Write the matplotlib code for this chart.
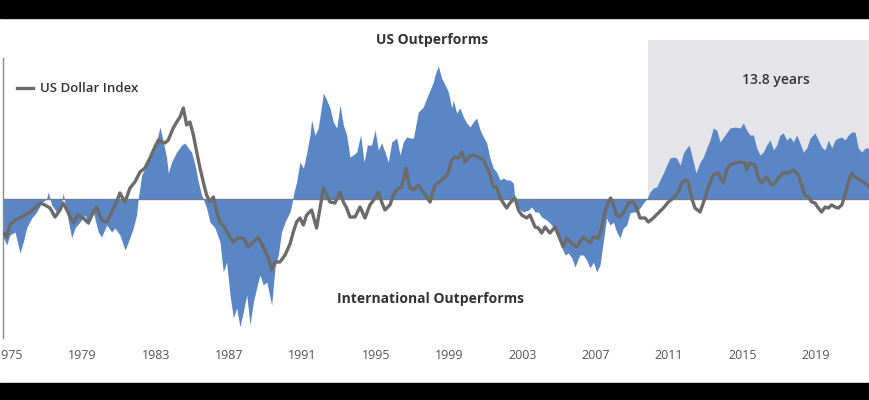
import matplotlib.pyplot as plt
from matplotlib.patches import Rectangle

plt.rcParams['font.family'] = ['Open Sans', 'DejaVu Sans']

# relative performance, US vs international (positive = US outperforms)
rel_years = [
    1974.68, 1974.86, 1975.04, 1975.32, 1975.59, 1975.77, 1975.95, 1976.23, 1976.50, 1976.77,
    1977.04, 1977.13, 1977.32, 1977.59, 1977.86, 1977.95, 1978.13, 1978.41, 1978.59, 1978.86,
    1979.13, 1979.32, 1979.59, 1979.86, 1980.04, 1980.32, 1980.59, 1980.77, 1981.04, 1981.32,
    1981.50, 1981.77, 1981.95, 1982.04, 1982.23, 1982.50,
    1982.68, 1982.95, 1983.23, 1983.41, 1983.59, 1983.68, 1983.86, 1984.14, 1984.41, 1984.59,
    1984.77, 1984.95, 1985.14, 1985.32, 1985.50, 1985.59, 1985.77, 1985.95, 1986.23, 1986.50,
    1986.68, 1986.86, 1987.05, 1987.23, 1987.41, 1987.59, 1987.77, 1987.96, 1988.14, 1988.32,
    1988.50, 1988.68, 1988.86, 1989.05, 1989.32, 1989.50, 1989.68, 1989.86, 1990.05, 1990.32,
    1990.41, 1990.54, 1990.68, 1990.86, 1991.05, 1991.23, 1991.41, 1991.50, 1991.68, 1991.86,
    1992.05, 1992.14, 1992.32, 1992.50, 1992.68, 1992.87, 1993.05, 1993.23, 1993.41, 1993.59,
    1993.77, 1993.96, 1994.17, 1994.36, 1994.54, 1994.77, 1994.96, 1995.14, 1995.32, 1995.50,
    1995.68, 1995.87, 1996.14, 1996.32, 1996.50, 1996.68, 1996.87, 1997.05, 1997.32, 1997.59,
    1997.78, 1997.96, 1998.14,
    1998.23, 1998.41, 1998.59, 1998.78, 1998.96, 1999.14, 1999.23, 1999.41, 1999.59, 1999.78,
    1999.96, 2000.14, 2000.32, 2000.50, 2000.69, 2000.87, 2001.05, 2001.23, 2001.41, 2001.59,
    2001.78, 2001.96, 2002.14, 2002.32, 2002.50, 2002.59, 2002.78, 2003.05, 2003.32, 2003.50,
    2003.69, 2003.87, 2004.05, 2004.32, 2004.60, 2004.87, 2005.14, 2005.32, 2005.50, 2005.69,
    2005.87, 2006.05,
    2006.14, 2006.32, 2006.50, 2006.69, 2006.87, 2007.05, 2007.23, 2007.41, 2007.59, 2007.78,
    2007.96, 2008.14, 2008.32, 2008.50, 2008.69, 2008.87, 2009.05, 2009.23, 2009.41, 2009.60,
    2009.78, 2009.96, 2010.14, 2010.32, 2010.50, 2010.69, 2010.87, 2011.05, 2011.23, 2011.41,
    2011.60, 2011.78, 2011.96, 2012.10, 2012.32, 2012.47, 2012.69, 2012.87, 2013.05, 2013.23,
    2013.41, 2013.60,
    2013.78, 2014.05, 2014.32, 2014.60, 2014.87, 2015.05, 2015.23, 2015.41, 2015.60, 2015.78,
    2015.96, 2016.14, 2016.32, 2016.51, 2016.69, 2016.87, 2017.05, 2017.23, 2017.41, 2017.60,
    2017.78, 2017.96, 2018.14, 2018.32, 2018.51, 2018.69, 2018.96, 2019.14, 2019.32, 2019.51,
    2019.69, 2019.87, 2020.05, 2020.23, 2020.42, 2020.60, 2020.78, 2020.96, 2021.14, 2021.32,
    2021.51, 2021.69, 2021.96,
]
rel_values = [
    -38, -46, -36, -33, -54, -43, -29, -19, -13, -4,
    0, 7, -6, -13, -3, 6, -13, -39, -29, -23,
    -16, -26, -13, -33, -38, -26, -33, -29, -36, -51,
    -43, -29, -16, 0, 24, 34,
    44, 51, 72, 57, 41, 26, 37, 47, 54, 56,
    51, 47, 34, 17, 4, 0, -9, -23, -29, -43,
    -73, -63, -96, -119, -109, -128, -113, -96, -126, -103,
    -89, -76, -86, -83, -106, -69, -56, -33, -23, -13,
    -6, 7, 17, 37, 31, 46, 64, 79, 64, 71,
    94, 106, 99, 91, 77, 71, 94, 74, 64, 42,
    44, 47, 64, 37, 54, 54, 69, 49, 56, 47,
    37, 57, 61, 44, 57, 62, 61, 61, 87, 92,
    101, 109, 117,
    124, 133, 121, 114, 107, 91, 99, 86, 91, 82,
    76, 72, 77, 81, 69, 62, 56, 41, 31, 27,
    19, 21, 19, 19, 16, 0, -9, -13, -11, -8,
    -13, -13, -18, -21, -26, -36, -48, -56, -54, -59,
    -68, -59,
    -56, -56, -61, -69, -63, -73, -66, -43, -19, -26,
    -23, -33, -39, -29, -26, -14, -13, -13, -9, -4,
    0, 7, 11, 12, 19, 26, 34, 41, 42, 41,
    34, 46, 51, 54, 37, 26, 37, 42, 51, 59,
    71, 69,
    57, 64, 71, 72, 71, 76, 69, 64, 64, 51,
    44, 47, 54, 59, 49, 54, 64, 66, 59, 62,
    57, 64, 56, 47, 51, 61, 66, 59, 52, 49,
    59, 51, 59, 61, 62, 59, 64, 67, 67, 51,
    47, 51, 51,
]

# US dollar index, same vertical scale (centred on the zero line)
usd_years = [
    1974.68, 1974.86, 1975.04, 1975.32, 1975.59, 1975.86, 1976.14, 1976.41, 1976.68, 1976.95,
    1977.23, 1977.50, 1977.77, 1977.95, 1978.23, 1978.50, 1978.77, 1979.04, 1979.32, 1979.59,
    1979.77, 1980.04, 1980.32, 1980.59, 1980.86, 1981.04, 1981.32, 1981.59, 1981.86, 1982.14,
    1982.41,
    1982.68, 1982.95, 1983.14, 1983.32, 1983.50, 1983.68, 1983.95, 1984.14, 1984.32, 1984.50,
    1984.68, 1984.86, 1985.05, 1985.23, 1985.41, 1985.59, 1985.77, 1985.95, 1986.14, 1986.32,
    1986.50, 1986.77, 1987.05, 1987.23, 1987.50, 1987.77, 1988.05, 1988.32, 1988.59, 1988.86,
    1989.14, 1989.32, 1989.50, 1989.77, 1990.05, 1990.32,
    1990.50, 1990.68, 1990.86, 1991.05, 1991.23, 1991.50, 1991.77, 1991.96, 1992.14, 1992.32,
    1992.50, 1992.77, 1993.05, 1993.23, 1993.41, 1993.59, 1993.87, 1994.14, 1994.41, 1994.68,
    1994.96, 1995.14, 1995.32, 1995.50, 1995.77, 1995.96, 1996.23, 1996.41, 1996.65, 1996.83,
    1997.05, 1997.32, 1997.59, 1997.96,
    1998.23, 1998.41, 1998.59, 1998.78, 1998.96, 1999.14, 1999.32, 1999.50, 1999.68, 1999.87,
    2000.05, 2000.32, 2000.59, 2000.87, 2001.05, 2001.23, 2001.41, 2001.59, 2001.78, 2001.96,
    2002.14, 2002.32, 2002.59, 2002.78, 2002.96, 2003.23, 2003.41, 2003.69, 2003.87, 2004.05,
    2004.23, 2004.50, 2004.78, 2004.96, 2005.23, 2005.41, 2005.69, 2005.96,
    2006.14, 2006.32, 2006.50, 2006.69, 2006.87, 2007.14, 2007.32, 2007.50, 2007.69, 2007.81,
    2007.96, 2008.14, 2008.32, 2008.60, 2008.78, 2009.05, 2009.23, 2009.41, 2009.69, 2009.87,
    2010.14, 2010.41, 2010.69, 2010.96, 2011.23, 2011.50, 2011.69, 2011.87, 2012.05, 2012.23,
    2012.41, 2012.69, 2012.96, 2013.14, 2013.41, 2013.69,
    2013.96, 2014.14, 2014.32, 2014.60, 2014.87, 2015.14, 2015.23, 2015.41, 2015.69, 2015.87,
    2016.05, 2016.32, 2016.60, 2016.78, 2016.96, 2017.23, 2017.51, 2017.78, 2018.05, 2018.23,
    2018.41, 2018.60, 2018.78, 2018.96, 2019.14, 2019.32, 2019.51, 2019.69, 2019.87, 2020.05,
    2020.23, 2020.42, 2020.60, 2020.78, 2020.96, 2021.14, 2021.41, 2021.69, 2021.96,
]
usd_values = [
    -34, -38, -26, -21, -19, -16, -13, -9, -4, -6,
    -9, -18, -11, -4, -14, -24, -16, -19, -24, -13,
    -8, -21, -23, -13, -3, 6, -3, 11, 17, 27,
    31,
    41, 52, 59, 57, 56, 59, 71, 77, 82, 91,
    74, 77, 64, 47, 31, 17, 4, -3, 2, -13,
    -23, -29, -38, -43, -39, -39, -48, -43, -38, -48,
    -59, -71, -63, -63, -56, -45,
    -33, -23, -19, -26, -16, -11, -29, -9, 11, 4,
    -3, -4, 7, -3, -9, -18, -18, -8, -19, -6,
    1, 7, -3, -11, -6, 4, 11, 12, 31, 12,
    9, 14, 7, -3,
    14, 16, 19, 22, 27, 39, 42, 41, 47, 37,
    42, 44, 42, 39, 32, 24, 12, 12, 1, -4,
    -9, -4, 1, -11, -16, -19, -16, -28, -29, -34,
    -28, -34, -28, -36, -48, -39, -44, -48,
    -43, -38, -41, -44, -38, -39, -29, -13, -3, 1,
    -6, -16, -18, -11, -4, -3, -9, -19, -19, -23,
    -19, -14, -9, -3, 1, 7, 16, 19, 17, 1,
    -9, -13, 1, 12, 24, 26,
    16, 29, 34, 36, 37, 36, 29, 36, 34, 21,
    16, 22, 14, 16, 21, 26, 26, 29, 24, 14,
    4, 2, -3, -4, -9, -13, -8, -9, -6, -8,
    -9, -6, 4, 17, 26, 22, 19, 16, 11,
]

tick_years = [1975, 1979, 1983, 1987, 1991, 1995, 1999, 2003, 2007, 2011, 2015, 2019]
span_start = 2009.85
span_label = '13.8 years'

x_min, x_max = 1974.68, 2021.96
y_min, y_max = -139, 159

fig = plt.figure(figsize=(8.7, 4.0), dpi=100)
fig.patch.set_facecolor('white')

# black letterbox bands
fig.add_artist(Rectangle((0, 0), 1, 17 / 400, transform=fig.transFigure,
                         color='black', zorder=0))
fig.add_artist(Rectangle((0, 382 / 400), 1, 18 / 400, transform=fig.transFigure,
                         color='black', zorder=0))

ax = fig.add_axes([3.3 / 870, 62 / 400, 1 - 3.3 / 870, 298 / 400])
ax.set_facecolor('none')

ax.fill_between([span_start, x_max], 0, y_max, color='#e5e5e9', lw=0, zorder=0)
ax.fill_between(rel_years, rel_values, 0, color='#5b86c5', lw=0, zorder=1)
ax.axhline(0, color='#6d7d92', lw=1.0, zorder=2)
ax.plot(usd_years, usd_values, color='#6b6b6b', lw=2.4, zorder=3,
        solid_joinstyle='round', label='US Dollar Index')

ax.set_xlim(x_min, x_max)
ax.set_ylim(y_min, y_max)

for side in ['top', 'right', 'bottom']:
    ax.spines[side].set_visible(False)
ax.spines['left'].set_color('#8a8a8a')
ax.spines['left'].set_linewidth(1.0)
ax.spines['left'].set_bounds(y_min, 141)

ax.set_yticks([])
ax.set_xticks(tick_years)
ax.set_xticklabels([str(y) for y in tick_years])
ax.tick_params(axis='x', length=0, pad=8, labelsize=9, labelcolor='#555555')

ax.legend(loc='center left', bbox_to_anchor=(17 / 870, 311 / 400),
          bbox_transform=fig.transFigure, frameon=False, borderpad=0,
          borderaxespad=0, handlelength=1.2, handletextpad=0.55,
          prop={'size': 9.5, 'weight': 'semibold'}, labelcolor='#333333')

fig.text(432 / 870, 360 / 400, 'US Outperforms', ha='center', va='center',
         fontsize=10, fontweight='bold', color='#333333')
fig.text(431 / 870, 101 / 400, 'International Outperforms', ha='center', va='center',
         fontsize=10, fontweight='bold', color='#333333')
fig.text(776 / 870, 320 / 400, span_label, ha='center', va='center',
         fontsize=10, fontweight='semibold', color='#333333')

plt.savefig('out.png', dpi=100)
